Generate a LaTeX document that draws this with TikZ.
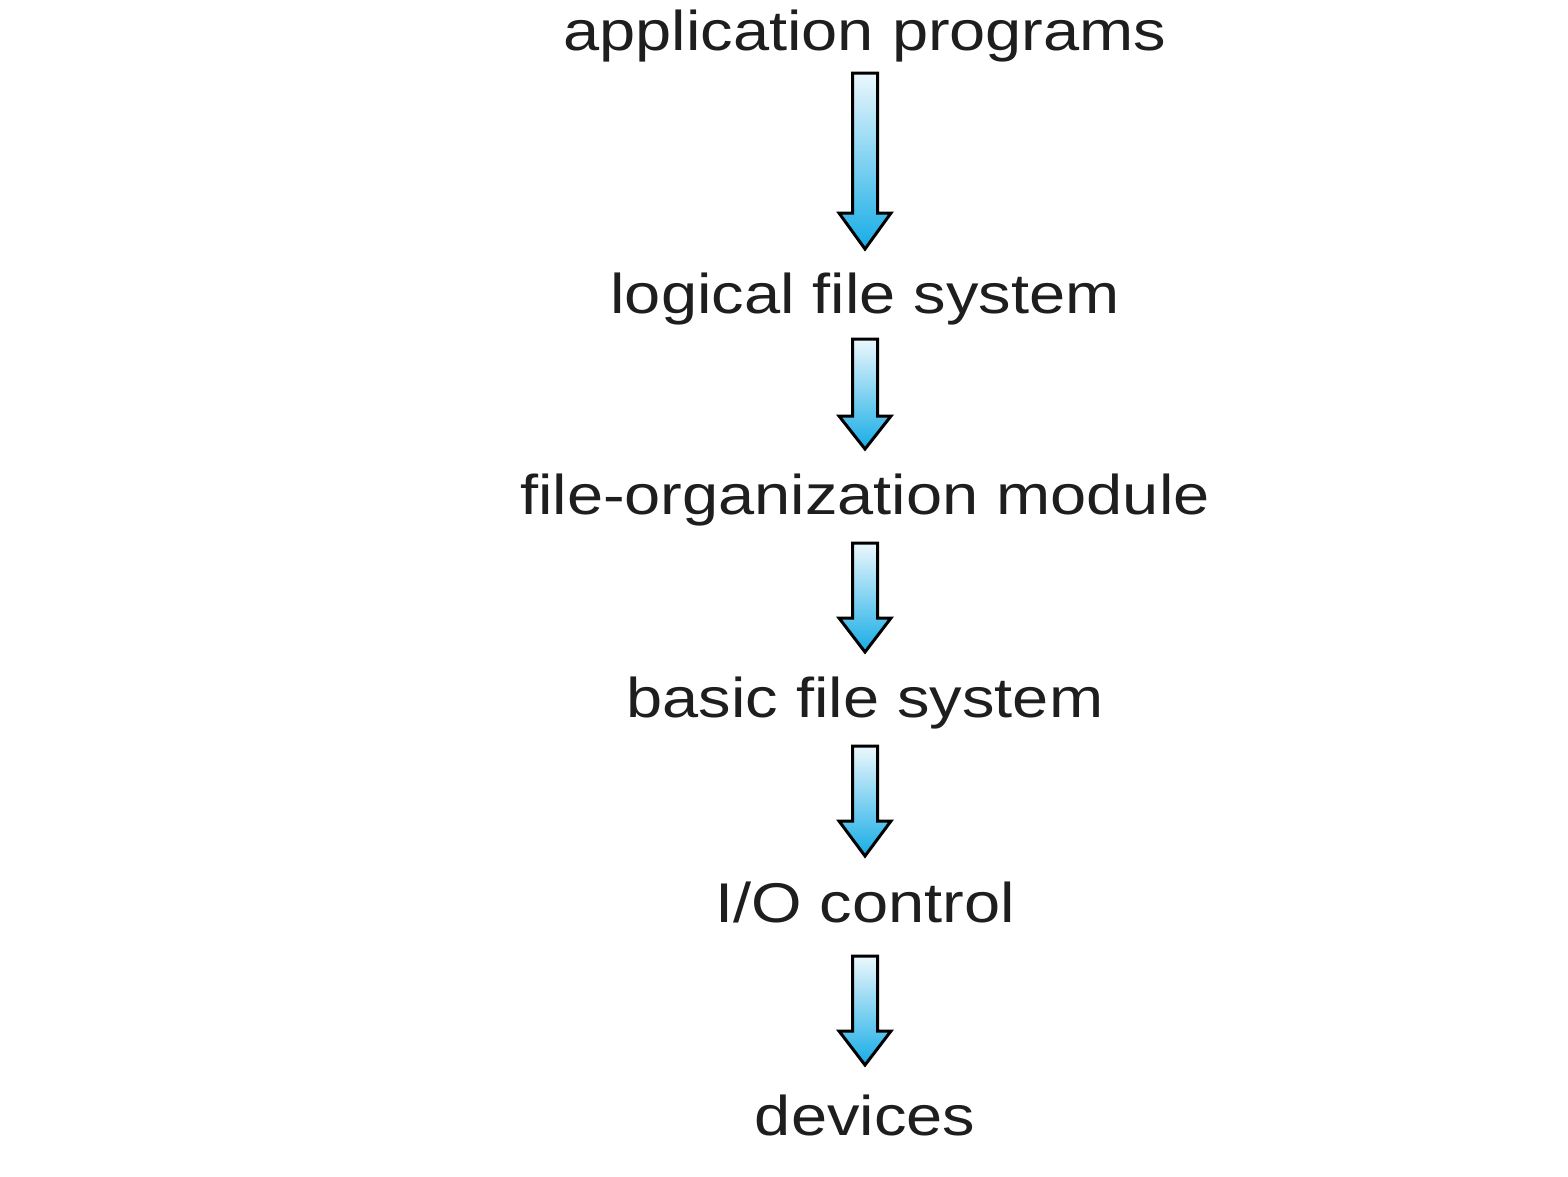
\documentclass[tikz,border=0pt]{standalone}
\usepackage{fontspec}
\setmainfont{Liberation Sans}
\definecolor{txt}{RGB}{30,30,30}
\definecolor{atop}{RGB}{236,248,253}
\definecolor{abot}{RGB}{22,172,230}
\newcommand{\wide}[1]{\scalebox{1.16}[1]{#1}}
\begin{document}
\begin{tikzpicture}[x=1pt,y=-1pt,
  lbl/.style={anchor=base,inner sep=0pt,text=txt,font=\fontsize{56}{67}\selectfont},
  fatarrow/.style={draw=black,line width=3pt,line join=miter,top color=atop,bottom color=abot}]
\useasboundingbox (0,0) rectangle (1568,1176);
\fill[white] (0,0) rectangle (1568,1176);
\node[lbl] (ap) at (865,50) {\wide{application programs}};
\node[lbl] (lf) at (865,313) {\wide{logical file system}};
\node[lbl] (fo) at (865,514) {\wide{file-organization module}};
\node[lbl] (bf) at (865,717) {\wide{basic file system}};
\node[lbl] (io) at (865,922) {\wide{I/O control}};
\node[lbl] (dv) at (865,1135) {\wide{devices}};
\newcommand{\fatarr}[3]{%
  \draw[fatarrow] (852.5,#1) -- (877.5,#1) -- (877.5,#2) -- (891,#2) -- (865,#3) -- (839,#2) -- (852.5,#2) -- cycle;}
\fatarr{73}{213}{249}
\fatarr{339}{416}{449}
\fatarr{543}{618}{652}
\fatarr{746}{821}{856}
\fatarr{956}{1031}{1065}
\end{tikzpicture}
\end{document}
